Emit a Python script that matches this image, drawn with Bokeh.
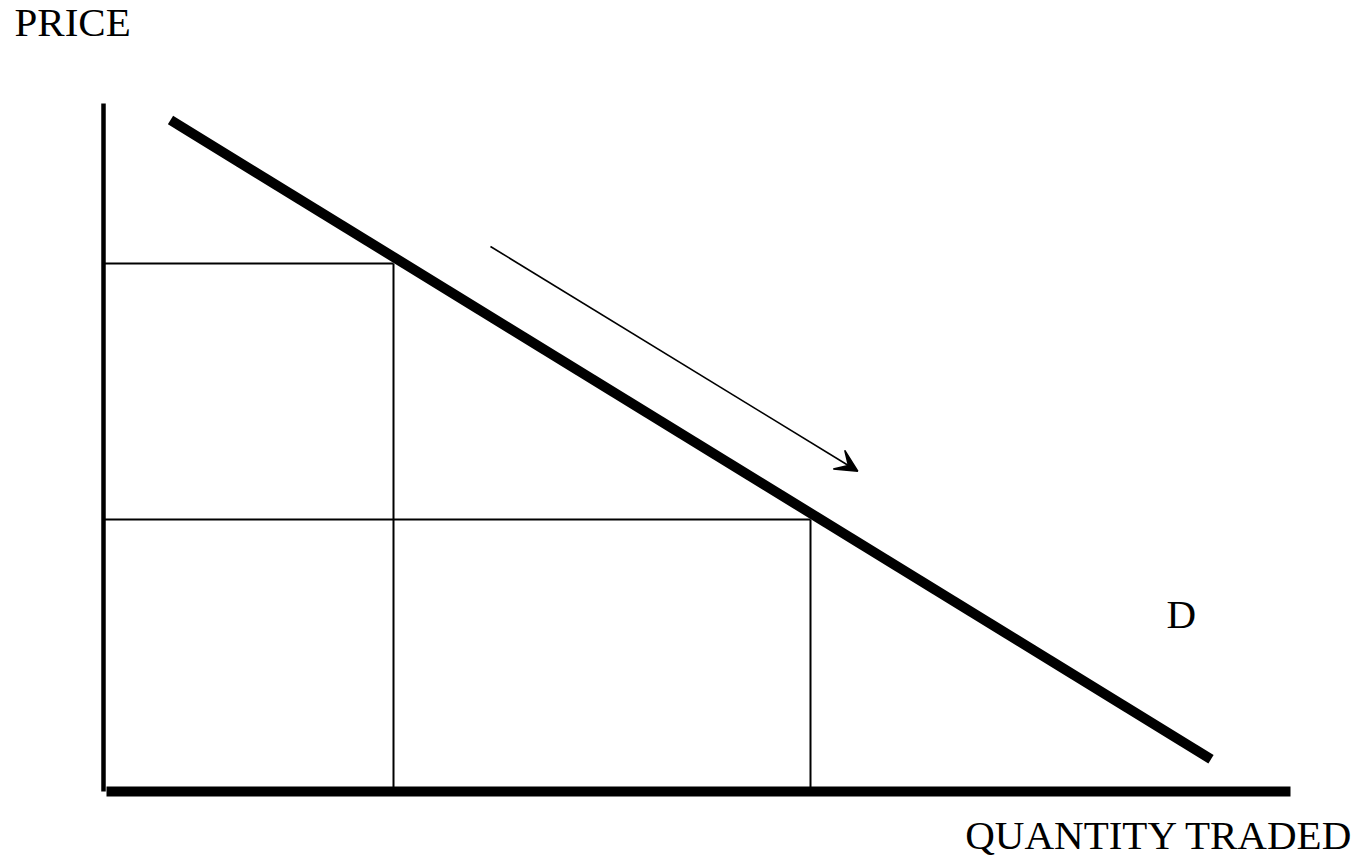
from bokeh.plotting import figure
from bokeh.models import Arrow, VeeHead, ColumnDataSource
from bokeh.core.properties import value
from bokeh.embed import file_html
from bokeh.resources import INLINE

# Schematic data (arbitrary units: quantity, price)
demand_q = [0.67, 11.075]
demand_p = [6.715, 0.323]
quantity_levels = [2.90, 7.07]
price_levels = [5.28, 2.72]
y_axis_top = 6.88
x_axis_end = 11.87
arrow_start = (3.87, 5.45)
arrow_end = (7.543, 3.203)
labels_text = ["PRICE", "QUANTITY TRADED", "D"]
labels_q = [-0.89, 12.50, 10.63]
labels_p = [7.70, -0.43, 1.775]
labels_align = ["left", "right", "left"]

FONT = value("Liberation Serif")

p = figure(width=1360, height=862, x_range=(-1.03, 12.57), y_range=(-0.71, 7.91),
           output_backend="svg", toolbar_location=None, min_border=0,
           x_axis_type=None, y_axis_type=None)
p.grid.visible = False
p.outline_line_color = None
p.background_fill_color = "white"
p.border_fill_color = "white"

# axes as lines
p.line([0, 0], [0, y_axis_top], line_color="black", line_width=4.5)
p.line([0.03, x_axis_end], [0, 0], line_color="black", line_width=10)

# guide lines
src = ColumnDataSource(dict(
    x0=[0] * len(quantity_levels) + quantity_levels,
    y0=price_levels + price_levels,
    x1=quantity_levels + quantity_levels,
    y1=price_levels + [0] * len(quantity_levels),
))
p.segment(x0="x0", y0="y0", x1="x1", y1="y1", source=src, line_color="black", line_width=2)

# demand curve
p.line(demand_q, demand_p, line_color="black", line_width=10)

# arrow
p.add_layout(Arrow(x_start=arrow_start[0], y_start=arrow_start[1],
                   x_end=arrow_end[0], y_end=arrow_end[1],
                   line_color="black", line_width=1.6,
                   end=VeeHead(size=22, fill_color="black", line_color="black", line_width=1.5)))

# labels
lsrc = ColumnDataSource(dict(x=labels_q, y=labels_p, text=labels_text, align=labels_align))
p.text(x="x", y="y", text="text", source=lsrc, text_align="align",
       text_baseline="alphabetic", text_font=FONT, text_font_size="41px",
       text_color="black")

open("out.html", "w").write(file_html(p, INLINE))
